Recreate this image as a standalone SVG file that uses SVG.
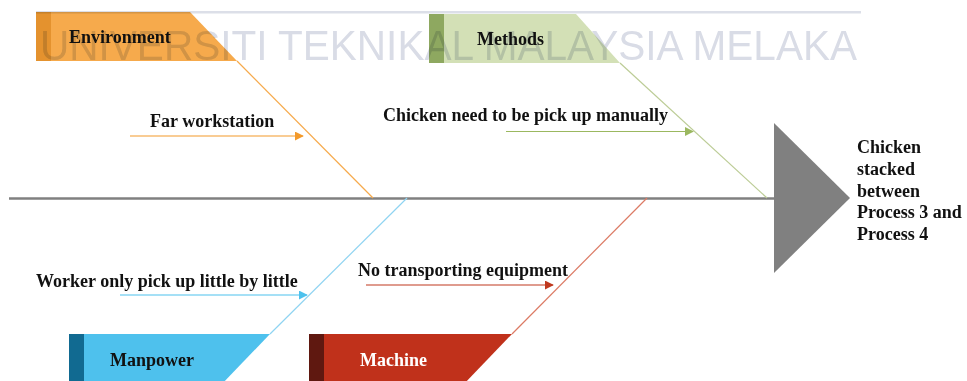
<svg xmlns="http://www.w3.org/2000/svg" width="967" height="381" viewBox="0 0 967 381">
  <style>
    .lbl { font-family: "Liberation Serif", "Times New Roman", serif; font-size: 18px; font-weight: bold; fill: #111; }
    .white { fill: #ffffff; }
    .bone { fill: none; stroke-width: 1.2; }
    .cause { fill: none; stroke-width: 1.2; }
    .wm { font-family: "Liberation Sans", Arial, sans-serif; font-size: 42px; fill: #d9dce6; mix-blend-mode: multiply; }
  </style>
  <defs>
    <marker id="ahOrange" viewBox="0 0 10 10" refX="9" refY="5" markerWidth="9" markerHeight="9" markerUnits="userSpaceOnUse" orient="auto">
      <path d="M0,0 L10,5 L0,10 Z" fill="#f39a2b"/>
    </marker>
    <marker id="ahGreen" viewBox="0 0 10 10" refX="9" refY="5" markerWidth="9" markerHeight="9" markerUnits="userSpaceOnUse" orient="auto">
      <path d="M0,0 L10,5 L0,10 Z" fill="#9bb860"/>
    </marker>
    <marker id="ahBlue" viewBox="0 0 10 10" refX="9" refY="5" markerWidth="9" markerHeight="9" markerUnits="userSpaceOnUse" orient="auto">
      <path d="M0,0 L10,5 L0,10 Z" fill="#4dc1ed"/>
    </marker>
    <marker id="ahRed" viewBox="0 0 10 10" refX="9" refY="5" markerWidth="9" markerHeight="9" markerUnits="userSpaceOnUse" orient="auto">
      <path d="M0,0 L10,5 L0,10 Z" fill="#c0391f"/>
    </marker>
  </defs>

  <rect width="967" height="381" fill="#ffffff"/>

  <!-- category boxes -->
  <g id="environment">
    <polygon points="36,12 190,12 237,61 36,61" fill="#f6aa4c"/>
    <rect x="36" y="12" width="15" height="49" fill="#e4922e"/>
    <text class="lbl" x="69" y="43">Environment</text>
  </g>
  <g id="methods">
    <polygon points="429,14 576,14 620,63 429,63" fill="#d3e0b6"/>
    <rect x="429" y="14" width="15" height="49" fill="#8ea860"/>
    <text class="lbl" x="477" y="45">Methods</text>
  </g>
  <g id="manpower">
    <polygon points="69,334 270,334 221,385 69,385" fill="#4ec1ed"/>
    <rect x="69" y="334" width="15" height="51" fill="#116a91"/>
    <text class="lbl" x="110" y="366">Manpower</text>
  </g>
  <g id="machine">
    <polygon points="309,334 512,334 463,385 309,385" fill="#c0311b"/>
    <rect x="309" y="334" width="15" height="51" fill="#5f1810"/>
    <text class="lbl white" x="360" y="366">Machine</text>
  </g>

  <!-- effect head -->
  <g id="effect">
    <polygon points="774,123 850,198 774,273" fill="#808080"/>
    <text class="lbl" x="857" y="153">Chicken</text>
    <text class="lbl" x="857" y="175">stacked</text>
    <text class="lbl" x="857" y="197">between</text>
    <text class="lbl" x="857" y="218">Process 3 and</text>
    <text class="lbl" x="857" y="240">Process 4</text>
  </g>

  <!-- cause labels -->
  <g id="cause-far">
    <text class="lbl" x="150" y="127">Far workstation</text>
  </g>
  <g id="cause-manual">
    <text class="lbl" x="383" y="121">Chicken need to be pick up manually</text>
  </g>
  <g id="cause-little">
    <text class="lbl" x="36" y="287">Worker only pick up little by little</text>
  </g>
  <g id="cause-transport">
    <text class="lbl" x="358" y="276">No transporting equipment</text>
  </g>

  <!-- connectors -->
  <g id="connectors">
    <line x1="9" y1="198.5" x2="775" y2="198.5" stroke="#808080" stroke-width="2.6"/>
    <line class="bone" x1="237" y1="61" x2="373" y2="198" stroke="#f6aa4c"/>
    <line class="bone" x1="620" y1="63" x2="767" y2="198" stroke="#bccc96"/>
    <line class="bone" x1="270" y1="334" x2="407" y2="198" stroke="#8fd4f2"/>
    <line class="bone" x1="512" y1="334" x2="647" y2="198" stroke="#dc7a64"/>

    <line class="cause" x1="130" y1="136" x2="303" y2="136" stroke="#f39a2b" marker-end="url(#ahOrange)"/>
    <line class="cause" x1="506" y1="131.5" x2="693" y2="131.5" stroke="#9bb860" marker-end="url(#ahGreen)"/>
    <line class="cause" x1="120" y1="295" x2="307" y2="295" stroke="#4dc1ed" marker-end="url(#ahBlue)"/>
    <line class="cause" x1="366" y1="285" x2="553" y2="285" stroke="#c0391f" marker-end="url(#ahRed)"/>
  </g>

  <!-- background watermark band -->
  <g id="watermark">
    <rect x="36" y="11" width="825" height="2.5" fill="#dcdfe8" style="mix-blend-mode: multiply"/>
    <text class="wm" x="40" y="60" textLength="817" lengthAdjust="spacingAndGlyphs">UNIVERSITI TEKNIKAL MALAYSIA MELAKA</text>
  </g>
</svg>
